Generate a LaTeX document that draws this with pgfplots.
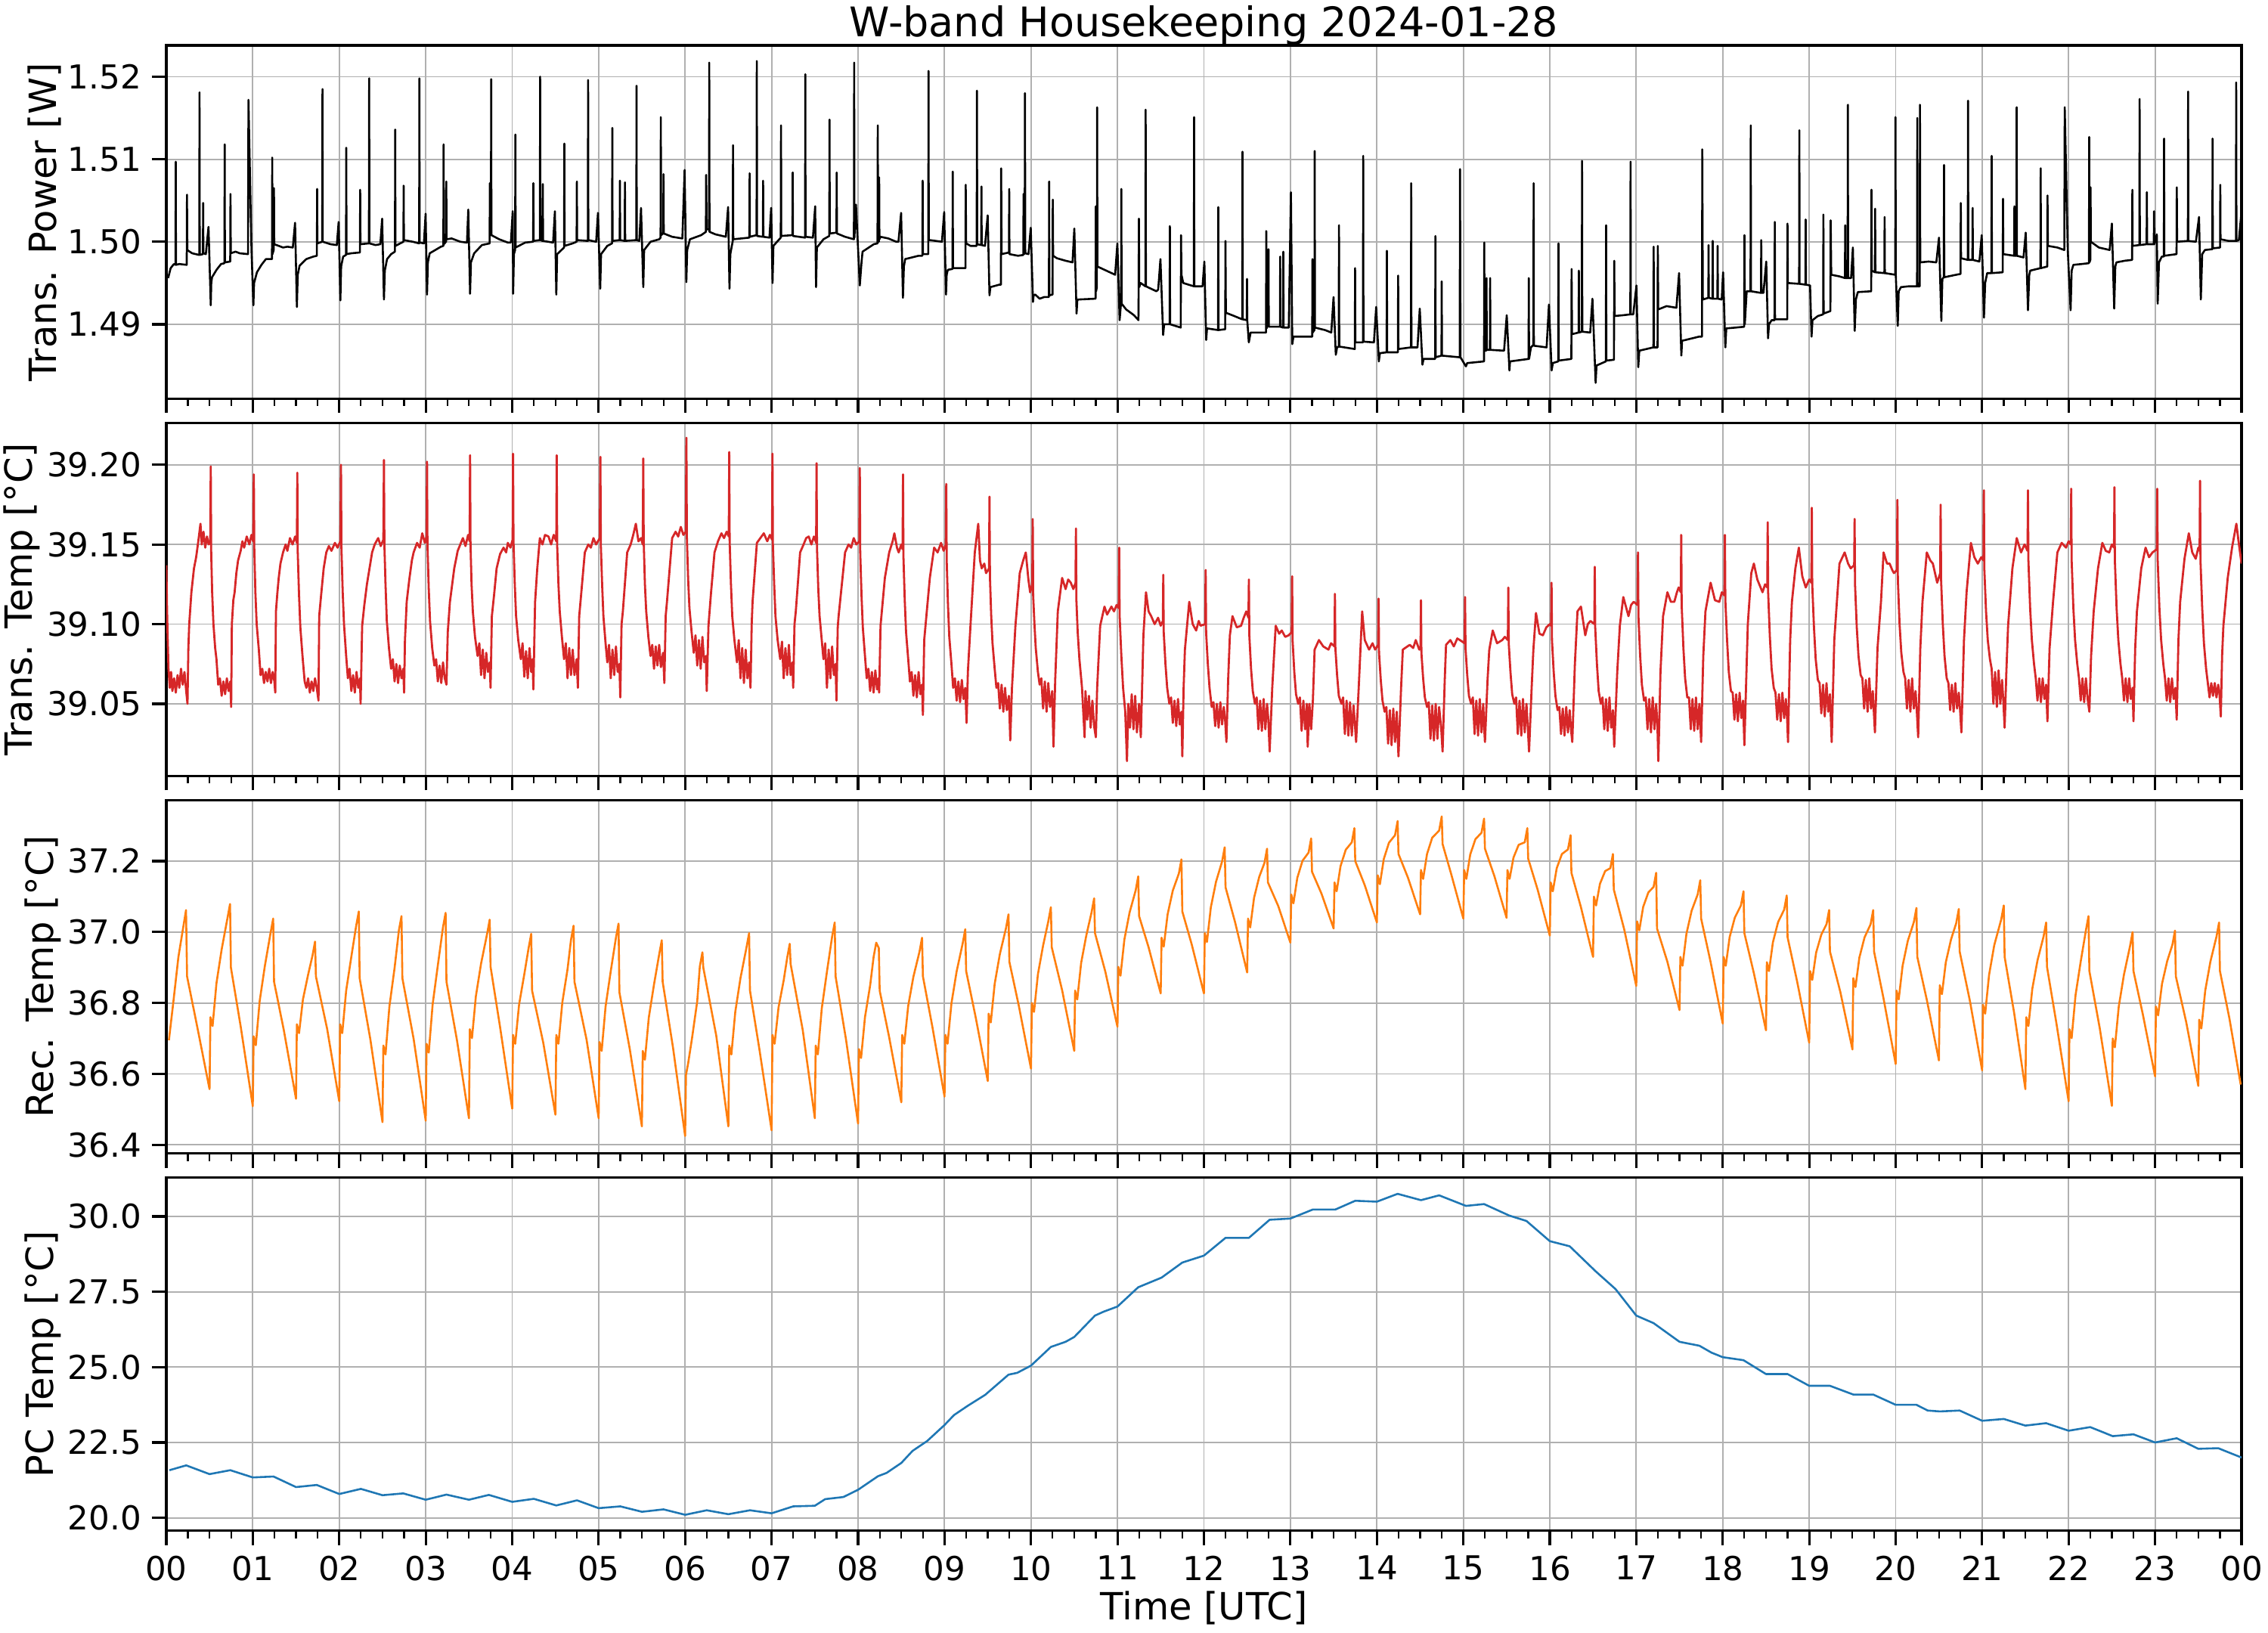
\documentclass[border=0pt]{standalone}
\usepackage{fontspec}
\setmainfont{DejaVu Sans}
\usepackage{pgfplots}
\usepackage{pgfplotstable}
\pgfplotsset{compat=1.18}
\definecolor{tabred}{HTML}{D62728}
\definecolor{taborange}{HTML}{FF7F0E}
\definecolor{tabblue}{HTML}{1F77B4}
\definecolor{gridgray}{HTML}{B0B0B0}
\pgfplotsset{
  hk/.style={
    scale only axis, width=686.25pt, height=116.8pt,
    xmin=0, xmax=24, xtick={0,1,...,24}, minor x tick num=3,
    xtick pos=left, ytick pos=left, tick align=outside,
    major tick length=4.75pt, minor tick length=2.5pt,
    tick style={black, line width=0.8pt}, minor tick style={line width=0.55pt},
    axis line style={line width=0.8pt, black},
    grid=major, major grid style={line width=0.45pt, gridgray},
    scaled y ticks=false,
    tick label style={font=\fontsize{10.9}{13}\selectfont},
    ylabel style={font=\fontsize{12.4}{15}\selectfont, inner sep=0pt},
    ylabel shift=-1.25pt,
    xlabel style={font=\fontsize{12.4}{15}\selectfont},
    xticklabels={},
    clip=true,
  }
}
\pgfplotstableread{
t v
0.021 1.4956
0.050 1.4968
0.088 1.4973
0.106 1.4972
0.109 1.5097
0.112 1.4972
0.150 1.4973
0.236 1.4972
0.239 1.5057
0.243 1.4990
0.270 1.4988
0.300 1.4986
0.340 1.4985
0.381 1.4984
0.384 1.5181
0.387 1.4984
0.423 1.4985
0.426 1.5047
0.429 1.4986
0.457 1.4985
0.488 1.5018
0.514 1.4923
0.520 1.4950
0.529 1.4957
0.581 1.4966
0.633 1.4973
0.672 1.4974
0.675 1.5118
0.678 1.4975
0.739 1.4976
0.742 1.5058
0.746 1.4986
0.800 1.4988
0.850 1.4986
0.945 1.4985
0.950 1.5172
0.985 1.4990
1.007 1.4923
1.015 1.4950
1.048 1.4963
1.100 1.4972
1.152 1.4979
1.222 1.4979
1.225 1.5102
1.228 1.4985
1.242 1.4990
1.245 1.5065
1.248 1.4997
1.300 1.4995
1.350 1.4993
1.400 1.4994
1.463 1.4993
1.489 1.5023
1.510 1.4921
1.520 1.4960
1.541 1.4971
1.619 1.4979
1.700 1.4982
1.741 1.4983
1.744 1.5064
1.747 1.4998
1.803 1.5000
1.806 1.5185
1.809 1.5000
1.900 1.4997
1.972 1.4996
1.993 1.5024
2.013 1.4929
2.022 1.4970
2.045 1.4982
2.078 1.4984
2.081 1.5114
2.084 1.4985
2.138 1.4986
2.239 1.4987
2.242 1.5063
2.245 1.4997
2.343 1.4998
2.346 1.5198
2.349 1.4998
2.420 1.4996
2.475 1.4997
2.496 1.5028
2.517 1.4930
2.527 1.4965
2.553 1.4979
2.600 1.4985
2.644 1.4988
2.647 1.5136
2.650 1.4995
2.742 1.5000
2.745 1.5068
2.748 1.5002
2.850 1.5000
2.924 1.4998
2.927 1.5198
2.930 1.4999
2.979 1.4998
2.999 1.5034
3.015 1.4936
3.025 1.4975
3.046 1.4986
3.176 1.4994
3.204 1.4995
3.207 1.5118
3.210 1.4997
3.235 1.5000
3.238 1.5073
3.241 1.5003
3.300 1.5004
3.400 1.5000
3.477 1.4999
3.492 1.5039
3.513 1.4937
3.523 1.4975
3.560 1.4986
3.650 1.4996
3.739 1.4998
3.742 1.5071
3.745 1.5008
3.754 1.5008
3.757 1.5197
3.760 1.5008
3.850 1.5003
3.950 1.4999
3.985 1.4999
4.006 1.5037
4.011 1.4937
4.020 1.4985
4.034 1.4990
4.037 1.5130
4.040 1.4993
4.150 1.4999
4.242 1.5000
4.245 1.5071
4.248 1.5001
4.320 1.5002
4.323 1.5200
4.326 1.5002
4.351 1.5001
4.354 1.5070
4.357 1.5001
4.473 1.4999
4.494 1.5037
4.510 1.4936
4.520 1.4985
4.600 1.4993
4.603 1.5119
4.606 1.4995
4.700 1.4998
4.745 1.5000
4.748 1.5073
4.751 1.5002
4.875 1.5001
4.878 1.5196
4.881 1.5002
4.971 1.5000
4.992 1.5035
5.018 1.4943
5.028 1.4985
5.100 1.4995
5.155 1.4998
5.158 1.5138
5.161 1.5001
5.243 1.5002
5.246 1.5074
5.249 1.5002
5.301 1.5001
5.304 1.5072
5.307 1.5001
5.435 1.5002
5.438 1.5189
5.441 1.5002
5.470 1.5001
5.490 1.5041
5.516 1.4945
5.526 1.4990
5.600 1.5000
5.700 1.5003
5.716 1.5005
5.719 1.5151
5.722 1.5008
5.747 1.5010
5.750 1.5082
5.753 1.5010
5.850 1.5006
5.968 1.5004
5.994 1.5087
6.014 1.4951
6.024 1.4990
6.056 1.5003
6.186 1.5008
6.240 1.5012
6.243 1.5081
6.250 1.5015
6.276 1.5015
6.279 1.5217
6.282 1.5012
6.350 1.5009
6.471 1.5006
6.497 1.5042
6.513 1.4943
6.523 1.4985
6.551 1.5001
6.554 1.5117
6.557 1.5003
6.650 1.5004
6.743 1.5005
6.746 1.5083
6.749 1.5006
6.826 1.5008
6.829 1.5219
6.832 1.5007
6.899 1.5006
6.902 1.5074
6.905 1.5006
6.975 1.5005
6.995 1.5041
7.011 1.4950
7.021 1.4995
7.106 1.5005
7.109 1.5141
7.112 1.5007
7.241 1.5008
7.244 1.5084
7.247 1.5007
7.387 1.5005
7.390 1.5203
7.393 1.5006
7.478 1.5005
7.504 1.5043
7.514 1.4945
7.524 1.4993
7.600 1.5003
7.667 1.5007
7.670 1.5148
7.673 1.5010
7.750 1.5011
7.753 1.5084
7.756 1.5010
7.850 1.5006
7.952 1.5003
7.955 1.5217
7.958 1.5005
7.976 1.5045
8.020 1.4947
8.040 1.4975
8.052 1.4988
8.182 1.4997
8.225 1.4998
8.228 1.5141
8.231 1.5000
8.241 1.5000
8.244 1.5078
8.247 1.5003
8.259 1.5006
8.350 1.5004
8.441 1.5000
8.467 1.5000
8.498 1.5035
8.519 1.4932
8.530 1.4970
8.545 1.4979
8.700 1.4983
8.744 1.4983
8.747 1.5074
8.750 1.4985
8.812 1.4985
8.815 1.5207
8.818 1.5002
8.830 1.5002
8.900 1.5001
8.970 1.5000
8.996 1.5036
9.017 1.4936
9.025 1.4960
9.038 1.4966
9.092 1.4967
9.095 1.5085
9.098 1.4968
9.242 1.4968
9.245 1.5069
9.250 1.4998
9.300 1.4995
9.372 1.4995
9.375 1.5183
9.378 1.4997
9.424 1.4996
9.427 1.5067
9.430 1.4996
9.468 1.4995
9.499 1.5032
9.520 1.4935
9.530 1.4945
9.634 1.4948
9.652 1.4948
9.655 1.5089
9.660 1.4985
9.745 1.4987
9.748 1.5064
9.751 1.4985
9.850 1.4983
9.911 1.4984
9.914 1.5058
9.918 1.4985
9.927 1.4986
9.930 1.5180
9.934 1.4986
9.971 1.4985
9.997 1.5017
10.023 1.4927
10.030 1.4935
10.049 1.4936
10.100 1.4931
10.153 1.4933
10.207 1.4933
10.210 1.5073
10.213 1.4935
10.249 1.4936
10.252 1.5051
10.256 1.4983
10.300 1.4980
10.400 1.4977
10.480 1.4975
10.501 1.5016
10.527 1.4913
10.535 1.4928
10.542 1.4930
10.747 1.4931
10.750 1.5043
10.753 1.4940
10.762 1.4945
10.765 1.5163
10.768 1.4970
10.850 1.4966
10.973 1.4960
10.999 1.4998
11.025 1.4905
11.042 1.4927
11.045 1.5064
11.048 1.4925
11.100 1.4918
11.191 1.4911
11.243 1.4905
11.248 1.5028
11.252 1.4945
11.269 1.4950
11.323 1.4946
11.326 1.5160
11.329 1.4946
11.450 1.4940
11.471 1.4942
11.497 1.4979
11.528 1.4887
11.540 1.4900
11.603 1.4900
11.606 1.5019
11.609 1.4900
11.732 1.4896
11.735 1.5008
11.740 1.4960
11.761 1.4950
11.883 1.4946
11.886 1.5151
11.889 1.4946
11.984 1.4946
12.005 1.4976
12.026 1.4881
12.036 1.4895
12.163 1.4893
12.166 1.5042
12.169 1.4893
12.246 1.4894
12.249 1.5001
12.254 1.4914
12.350 1.4910
12.443 1.4906
12.446 1.5109
12.449 1.4906
12.495 1.4905
12.498 1.4955
12.501 1.4905
12.519 1.4878
12.540 1.4890
12.718 1.4890
12.721 1.5013
12.724 1.4895
12.744 1.4900
12.747 1.4991
12.750 1.4897
12.879 1.4897
12.882 1.4982
12.885 1.4897
12.915 1.4896
12.918 1.4988
12.921 1.4896
12.981 1.4896
13.006 1.5060
13.022 1.4876
13.035 1.4885
13.252 1.4885
13.255 1.4979
13.258 1.4890
13.278 1.4893
13.281 1.5110
13.284 1.4896
13.400 1.4893
13.473 1.4890
13.499 1.4933
13.525 1.4863
13.540 1.4872
13.559 1.4873
13.562 1.5020
13.565 1.4873
13.745 1.4870
13.748 1.4968
13.751 1.4878
13.839 1.4878
13.842 1.5104
13.845 1.4879
13.966 1.4878
13.992 1.4921
14.023 1.4855
14.035 1.4865
14.113 1.4866
14.116 1.4989
14.119 1.4866
14.243 1.4866
14.246 1.4959
14.249 1.4870
14.394 1.4872
14.397 1.5071
14.400 1.4872
14.470 1.4872
14.496 1.4919
14.527 1.4851
14.540 1.4858
14.674 1.4858
14.677 1.5007
14.680 1.4860
14.747 1.4862
14.750 1.4952
14.753 1.4862
14.958 1.4860
14.962 1.5088
14.967 1.4860
15.030 1.4849
15.045 1.4853
15.239 1.4855
15.242 1.4999
15.246 1.4868
15.265 1.4868
15.268 1.4956
15.271 1.4869
15.307 1.4869
15.310 1.4956
15.313 1.4869
15.471 1.4868
15.502 1.4911
15.533 1.4844
15.540 1.4855
15.754 1.4858
15.757 1.4956
15.760 1.4858
15.782 1.4872
15.810 1.4875
15.813 1.5071
15.816 1.4874
15.963 1.4872
15.990 1.4924
16.021 1.4844
16.035 1.4853
16.097 1.4855
16.100 1.4998
16.103 1.4856
16.249 1.4858
16.252 1.4967
16.257 1.4888
16.333 1.4890
16.336 1.4965
16.339 1.4890
16.370 1.4891
16.373 1.5098
16.376 1.4891
16.467 1.4890
16.493 1.4931
16.530 1.4829
16.540 1.4850
16.648 1.4855
16.651 1.5020
16.654 1.4856
16.742 1.4857
16.745 1.4977
16.750 1.4910
16.850 1.4911
16.931 1.4912
16.934 1.5097
16.937 1.4912
16.965 1.4912
17.002 1.4947
17.023 1.4848
17.035 1.4868
17.198 1.4872
17.201 1.4994
17.205 1.4872
17.246 1.4872
17.249 1.4995
17.254 1.4918
17.350 1.4922
17.464 1.4920
17.495 1.4962
17.521 1.4862
17.530 1.4880
17.726 1.4885
17.760 1.4885
17.763 1.5112
17.770 1.4930
17.833 1.4932
17.836 1.4996
17.839 1.4932
17.881 1.4931
17.884 1.5001
17.887 1.4931
17.938 1.4931
17.941 1.4995
17.944 1.4931
17.988 1.4930
18.004 1.4963
18.030 1.4872
18.041 1.4895
18.150 1.4896
18.248 1.4897
18.251 1.5008
18.255 1.4900
18.277 1.4940
18.321 1.4940
18.324 1.5141
18.327 1.4940
18.442 1.4938
18.445 1.5002
18.448 1.4938
18.471 1.4938
18.503 1.4976
18.524 1.4883
18.535 1.4900
18.566 1.4905
18.599 1.4905
18.602 1.5024
18.605 1.4906
18.746 1.4906
18.749 1.5022
18.753 1.4950
18.883 1.4949
18.886 1.5135
18.889 1.4949
18.956 1.4948
18.959 1.5027
18.962 1.4948
19.010 1.4947
19.027 1.4885
19.038 1.4905
19.100 1.4910
19.161 1.4912
19.164 1.5033
19.167 1.4913
19.245 1.4916
19.248 1.5026
19.255 1.4960
19.350 1.4958
19.413 1.4956
19.416 1.5020
19.419 1.4956
19.444 1.4956
19.447 1.5166
19.450 1.4956
19.484 1.4956
19.505 1.4993
19.526 1.4892
19.540 1.4930
19.562 1.4939
19.717 1.4940
19.720 1.5063
19.723 1.4965
19.759 1.4963
19.762 1.5040
19.766 1.4963
19.869 1.4962
19.872 1.5030
19.875 1.4962
19.995 1.4960
19.998 1.5151
20.001 1.4960
20.024 1.4898
20.035 1.4940
20.061 1.4945
20.150 1.4946
20.247 1.4946
20.250 1.5150
20.253 1.4946
20.278 1.4946
20.281 1.5166
20.284 1.4975
20.380 1.4976
20.470 1.4975
20.501 1.5005
20.528 1.4904
20.540 1.4955
20.556 1.4957
20.559 1.5093
20.562 1.4957
20.700 1.4960
20.750 1.4961
20.753 1.5047
20.756 1.4980
20.834 1.4978
20.837 1.5171
20.840 1.4978
20.887 1.4978
20.890 1.5041
20.893 1.4978
20.968 1.4976
20.995 1.5008
21.021 1.4908
21.035 1.4950
21.058 1.4962
21.107 1.4962
21.110 1.5104
21.113 1.4962
21.238 1.4963
21.241 1.5052
21.245 1.4985
21.370 1.4983
21.373 1.5043
21.376 1.4983
21.396 1.4983
21.399 1.5163
21.402 1.4983
21.478 1.4981
21.504 1.5011
21.530 1.4917
21.545 1.4960
21.556 1.4965
21.674 1.4968
21.677 1.5089
21.680 1.4968
21.753 1.4970
21.756 1.5056
21.760 1.4995
21.870 1.4993
21.950 1.4990
21.955 1.5163
21.976 1.5060
21.990 1.4990
22.023 1.4917
22.035 1.4965
22.055 1.4972
22.150 1.4973
22.235 1.4974
22.238 1.5127
22.241 1.4975
22.251 1.4978
22.254 1.5066
22.257 1.5000
22.350 1.4993
22.474 1.4990
22.500 1.5022
22.527 1.4919
22.540 1.4970
22.553 1.4975
22.650 1.4977
22.734 1.4978
22.737 1.5063
22.740 1.4995
22.818 1.4996
22.821 1.5173
22.824 1.4996
22.902 1.4997
22.905 1.5060
22.908 1.4997
22.985 1.4997
22.988 1.5037
22.991 1.4997
23.020 1.5009
23.030 1.4925
23.045 1.4975
23.078 1.4982
23.101 1.4982
23.104 1.5125
23.107 1.4983
23.248 1.4985
23.251 1.5066
23.255 1.5000
23.379 1.5001
23.382 1.5182
23.385 1.5001
23.472 1.5000
23.508 1.5030
23.529 1.4930
23.545 1.4985
23.576 1.4990
23.662 1.4991
23.665 1.5125
23.668 1.4992
23.751 1.4993
23.754 1.5069
23.757 1.5003
23.850 1.5001
23.935 1.5001
23.938 1.5193
23.941 1.5001
23.969 1.5002
24.000 1.5037
}\tpow
\pgfplotstableread{
t v
0.000 39.137
0.008 39.110
0.015 39.093
0.025 39.072
0.040 39.060
0.055 39.070
0.070 39.058
0.090 39.066
0.110 39.057
0.130 39.068
0.150 39.060
0.170 39.072
0.190 39.062
0.210 39.070
0.230 39.058
0.245 39.050
0.255 39.085
0.265 39.100
0.290 39.120
0.320 39.135
0.345 39.142
0.370 39.152
0.395 39.163
0.410 39.150
0.430 39.158
0.450 39.148
0.470 39.155
0.490 39.150
0.508 39.152
0.514 39.199
0.519 39.145
0.530 39.120
0.545 39.100
0.565 39.085
0.580 39.078
0.600 39.062
0.620 39.066
0.640 39.055
0.660 39.064
0.680 39.056
0.700 39.066
0.720 39.058
0.740 39.064
0.750 39.048
0.758 39.100
0.775 39.115
0.790 39.120
0.810 39.132
0.830 39.140
0.860 39.146
0.880 39.152
0.900 39.148
0.930 39.155
0.960 39.150
0.985 39.156
1.005 39.152
1.012 39.194
1.017 39.148
1.030 39.120
1.045 39.100
1.070 39.084
1.090 39.068
1.110 39.072
1.130 39.063
1.150 39.070
1.170 39.064
1.190 39.072
1.210 39.063
1.230 39.070
1.250 39.064
1.260 39.057
1.268 39.108
1.285 39.120
1.300 39.129
1.320 39.138
1.350 39.145
1.380 39.150
1.400 39.146
1.430 39.154
1.460 39.150
1.490 39.155
1.510 39.151
1.515 39.195
1.520 39.145
1.535 39.118
1.550 39.098
1.575 39.080
1.600 39.064
1.620 39.060
1.640 39.066
1.660 39.057
1.680 39.064
1.700 39.058
1.720 39.066
1.740 39.060
1.760 39.052
1.768 39.105
1.790 39.118
1.820 39.135
1.850 39.145
1.880 39.149
1.910 39.146
1.950 39.151
1.980 39.148
2.013 39.152
2.020 39.200
2.025 39.148
2.040 39.120
2.055 39.100
2.080 39.080
2.100 39.066
2.120 39.072
2.140 39.058
2.160 39.068
2.180 39.057
2.200 39.070
2.220 39.060
2.240 39.066
2.247 39.050
2.265 39.099
2.290 39.112
2.320 39.125
2.350 39.135
2.380 39.145
2.410 39.150
2.450 39.154
2.480 39.149
2.510 39.153
2.517 39.203
2.522 39.150
2.535 39.125
2.550 39.102
2.575 39.085
2.600 39.072
2.620 39.078
2.640 39.064
2.660 39.075
2.680 39.063
2.700 39.074
2.720 39.066
2.740 39.072
2.750 39.057
2.760 39.090
2.780 39.114
2.810 39.128
2.840 39.140
2.860 39.145
2.900 39.151
2.930 39.148
2.960 39.157
2.990 39.151
3.010 39.155
3.015 39.202
3.020 39.150
3.035 39.122
3.050 39.102
3.075 39.085
3.100 39.074
3.120 39.078
3.140 39.064
3.160 39.074
3.180 39.063
3.200 39.076
3.220 39.066
3.240 39.062
3.255 39.095
3.280 39.114
3.330 39.135
3.370 39.146
3.400 39.150
3.430 39.154
3.460 39.149
3.490 39.156
3.508 39.152
3.513 39.206
3.518 39.150
3.530 39.125
3.545 39.108
3.570 39.092
3.600 39.080
3.620 39.088
3.640 39.068
3.660 39.084
3.680 39.066
3.700 39.082
3.720 39.070
3.740 39.076
3.750 39.060
3.765 39.105
3.790 39.118
3.820 39.135
3.860 39.144
3.900 39.148
3.930 39.145
3.950 39.151
3.980 39.148
4.005 39.153
4.010 39.207
4.015 39.152
4.030 39.125
4.045 39.105
4.070 39.090
4.100 39.078
4.120 39.088
4.140 39.067
4.160 39.083
4.180 39.066
4.200 39.085
4.220 39.070
4.235 39.078
4.245 39.059
4.265 39.114
4.290 39.135
4.320 39.154
4.350 39.150
4.380 39.156
4.420 39.155
4.450 39.150
4.480 39.156
4.510 39.152
4.515 39.206
4.520 39.150
4.535 39.125
4.550 39.108
4.575 39.092
4.600 39.078
4.620 39.088
4.640 39.066
4.660 39.085
4.680 39.068
4.700 39.084
4.720 39.068
4.745 39.078
4.760 39.060
4.775 39.105
4.790 39.114
4.840 39.145
4.880 39.150
4.910 39.148
4.940 39.154
4.970 39.150
5.013 39.154
5.020 39.205
5.025 39.150
5.040 39.125
5.055 39.105
5.080 39.088
5.100 39.076
5.120 39.087
5.140 39.066
5.160 39.084
5.180 39.068
5.200 39.086
5.220 39.070
5.240 39.075
5.250 39.054
5.265 39.100
5.280 39.108
5.330 39.145
5.370 39.150
5.400 39.156
5.430 39.163
5.460 39.152
5.490 39.154
5.510 39.150
5.516 39.204
5.521 39.152
5.535 39.125
5.550 39.108
5.575 39.092
5.600 39.080
5.620 39.087
5.640 39.072
5.660 39.086
5.680 39.074
5.700 39.087
5.720 39.073
5.745 39.082
5.760 39.063
5.775 39.105
5.790 39.114
5.850 39.154
5.890 39.158
5.920 39.155
5.950 39.161
5.980 39.156
6.008 39.158
6.015 39.217
6.020 39.155
6.035 39.128
6.050 39.110
6.075 39.095
6.100 39.082
6.120 39.093
6.140 39.074
6.160 39.090
6.180 39.072
6.200 39.092
6.220 39.076
6.240 39.080
6.250 39.058
6.270 39.099
6.300 39.120
6.340 39.145
6.380 39.152
6.420 39.157
6.450 39.154
6.480 39.158
6.505 39.155
6.510 39.208
6.515 39.152
6.530 39.125
6.545 39.105
6.570 39.090
6.600 39.076
6.620 39.090
6.640 39.066
6.660 39.085
6.680 39.063
6.700 39.084
6.720 39.066
6.740 39.076
6.756 39.060
6.770 39.100
6.780 39.114
6.830 39.151
6.870 39.154
6.910 39.157
6.950 39.152
6.980 39.156
7.005 39.153
7.010 39.207
7.015 39.150
7.030 39.125
7.045 39.105
7.070 39.090
7.100 39.078
7.120 39.089
7.140 39.066
7.160 39.085
7.180 39.068
7.200 39.087
7.220 39.068
7.240 39.076
7.250 39.060
7.265 39.100
7.280 39.108
7.330 39.145
7.370 39.150
7.400 39.154
7.430 39.155
7.460 39.150
7.490 39.155
7.515 39.151
7.520 39.201
7.525 39.148
7.540 39.122
7.555 39.105
7.580 39.090
7.600 39.078
7.620 39.088
7.640 39.060
7.660 39.084
7.680 39.066
7.700 39.086
7.720 39.068
7.740 39.075
7.750 39.052
7.765 39.098
7.775 39.105
7.850 39.145
7.890 39.150
7.920 39.148
7.950 39.154
7.980 39.150
8.015 39.152
8.020 39.198
8.025 39.145
8.040 39.118
8.055 39.098
8.080 39.080
8.100 39.066
8.120 39.072
8.140 39.058
8.160 39.070
8.180 39.057
8.200 39.071
8.220 39.059
8.235 39.066
8.244 39.057
8.260 39.099
8.310 39.129
8.360 39.145
8.400 39.152
8.420 39.157
8.450 39.148
8.470 39.145
8.500 39.150
8.515 39.147
8.520 39.194
8.525 39.142
8.540 39.115
8.555 39.095
8.580 39.078
8.600 39.064
8.620 39.070
8.640 39.055
8.660 39.068
8.680 39.054
8.700 39.070
8.720 39.056
8.740 39.062
8.750 39.043
8.765 39.090
8.780 39.099
8.830 39.129
8.880 39.148
8.920 39.145
8.960 39.151
8.990 39.146
9.015 39.150
9.020 39.188
9.025 39.140
9.040 39.112
9.055 39.092
9.080 39.075
9.100 39.060
9.120 39.066
9.140 39.052
9.160 39.064
9.180 39.051
9.200 39.065
9.220 39.053
9.240 39.060
9.255 39.038
9.270 39.070
9.300 39.099
9.350 39.145
9.390 39.163
9.410 39.140
9.430 39.135
9.460 39.138
9.480 39.132
9.515 39.135
9.520 39.180
9.525 39.130
9.540 39.105
9.555 39.088
9.580 39.072
9.600 39.060
9.620 39.063
9.640 39.047
9.660 39.062
9.680 39.045
9.700 39.060
9.720 39.046
9.745 39.055
9.760 39.027
9.780 39.060
9.820 39.099
9.870 39.132
9.910 39.140
9.940 39.145
9.970 39.128
9.990 39.120
10.015 39.125
10.020 39.166
10.025 39.118
10.040 39.100
10.055 39.085
10.080 39.070
10.100 39.062
10.120 39.066
10.140 39.047
10.160 39.064
10.180 39.045
10.200 39.063
10.220 39.048
10.245 39.058
10.260 39.023
10.280 39.065
10.310 39.108
10.360 39.129
10.400 39.122
10.430 39.128
10.460 39.126
10.490 39.122
10.515 39.126
10.520 39.160
10.525 39.115
10.540 39.095
10.560 39.078
10.590 39.060
10.620 39.029
10.630 39.058
10.650 39.040
10.670 39.055
10.690 39.035
10.710 39.052
10.730 39.036
10.750 39.029
10.765 39.060
10.800 39.099
10.850 39.111
10.880 39.106
10.930 39.111
10.960 39.108
10.990 39.112
11.015 39.110
11.020 39.148
11.025 39.105
11.045 39.080
11.065 39.060
11.090 39.045
11.110 39.014
11.125 39.050
11.145 39.035
11.165 39.056
11.185 39.034
11.205 39.055
11.225 39.032
11.250 39.050
11.270 39.029
11.285 39.060
11.300 39.093
11.330 39.120
11.360 39.108
11.390 39.105
11.430 39.100
11.470 39.104
11.500 39.099
11.525 39.102
11.530 39.131
11.535 39.095
11.555 39.075
11.575 39.060
11.600 39.050
11.620 39.054
11.640 39.038
11.660 39.052
11.680 39.036
11.700 39.053
11.720 39.037
11.740 39.045
11.750 39.017
11.765 39.060
11.780 39.084
11.830 39.114
11.870 39.100
11.910 39.096
11.940 39.102
11.960 39.099
12.015 39.100
12.020 39.134
12.025 39.095
12.045 39.075
12.065 39.060
12.090 39.048
12.110 39.051
12.130 39.036
12.150 39.050
12.170 39.035
12.190 39.051
12.210 39.037
12.230 39.048
12.245 39.040
12.260 39.026
12.280 39.065
12.300 39.093
12.330 39.105
12.380 39.098
12.430 39.099
12.460 39.104
12.490 39.108
12.515 39.104
12.520 39.128
12.525 39.093
12.545 39.072
12.565 39.058
12.590 39.050
12.610 39.054
12.630 39.034
12.650 39.052
12.670 39.033
12.690 39.053
12.710 39.034
12.730 39.050
12.745 39.040
12.760 39.020
12.790 39.060
12.830 39.099
12.870 39.094
12.900 39.096
12.940 39.092
12.980 39.093
13.015 39.095
13.020 39.130
13.025 39.090
13.045 39.070
13.065 39.056
13.090 39.050
13.110 39.054
13.130 39.033
13.150 39.052
13.170 39.034
13.190 39.050
13.200 39.023
13.220 39.050
13.240 39.034
13.260 39.052
13.280 39.084
13.330 39.090
13.380 39.086
13.440 39.084
13.470 39.088
13.490 39.087
13.510 39.086
13.515 39.119
13.520 39.085
13.540 39.068
13.560 39.055
13.590 39.050
13.610 39.054
13.630 39.031
13.650 39.052
13.670 39.030
13.690 39.051
13.710 39.030
13.730 39.049
13.745 39.038
13.760 39.026
13.790 39.060
13.810 39.084
13.830 39.108
13.860 39.090
13.910 39.084
13.950 39.088
13.980 39.084
14.015 39.087
14.020 39.116
14.025 39.082
14.045 39.065
14.065 39.052
14.090 39.045
14.110 39.048
14.130 39.025
14.150 39.046
14.170 39.024
14.190 39.047
14.210 39.026
14.230 39.045
14.240 39.030
14.250 39.017
14.280 39.060
14.300 39.084
14.380 39.087
14.420 39.085
14.450 39.090
14.490 39.084
14.505 39.086
14.510 39.115
14.515 39.082
14.535 39.066
14.555 39.054
14.580 39.048
14.600 39.051
14.620 39.028
14.640 39.049
14.660 39.027
14.680 39.050
14.700 39.028
14.720 39.048
14.745 39.034
14.760 39.020
14.785 39.065
14.800 39.087
14.850 39.090
14.890 39.086
14.930 39.091
14.960 39.090
15.015 39.088
15.020 39.117
15.025 39.085
15.045 39.068
15.065 39.055
15.090 39.050
15.110 39.054
15.130 39.031
15.150 39.052
15.170 39.030
15.190 39.053
15.210 39.032
15.230 39.050
15.240 39.036
15.250 39.026
15.280 39.065
15.300 39.084
15.340 39.096
15.390 39.088
15.450 39.090
15.480 39.092
15.515 39.090
15.520 39.123
15.525 39.088
15.545 39.070
15.565 39.056
15.590 39.050
15.610 39.054
15.630 39.031
15.650 39.052
15.670 39.030
15.690 39.053
15.710 39.032
15.730 39.050
15.745 39.036
15.760 39.020
15.790 39.060
15.810 39.084
15.840 39.107
15.880 39.094
15.920 39.093
15.960 39.098
16.000 39.100
16.015 39.099
16.020 39.126
16.025 39.090
16.045 39.070
16.065 39.055
16.090 39.046
16.110 39.048
16.130 39.031
16.150 39.047
16.170 39.030
16.190 39.048
16.210 39.032
16.230 39.046
16.245 39.034
16.260 39.026
16.290 39.075
16.320 39.108
16.360 39.111
16.410 39.093
16.440 39.100
16.470 39.102
16.515 39.100
16.520 39.136
16.525 39.098
16.545 39.075
16.565 39.058
16.590 39.050
16.610 39.054
16.630 39.034
16.650 39.053
16.670 39.033
16.690 39.054
16.710 39.035
16.730 39.046
16.745 39.023
16.780 39.070
16.810 39.099
16.850 39.117
16.910 39.105
16.940 39.112
16.970 39.114
17.015 39.112
17.020 39.145
17.025 39.105
17.045 39.080
17.065 39.062
17.090 39.052
17.110 39.054
17.130 39.034
17.150 39.053
17.170 39.032
17.190 39.054
17.210 39.034
17.230 39.050
17.245 39.036
17.255 39.014
17.280 39.070
17.310 39.105
17.360 39.120
17.400 39.114
17.440 39.114
17.470 39.120
17.490 39.123
17.515 39.120
17.520 39.156
17.525 39.112
17.545 39.085
17.565 39.066
17.590 39.054
17.610 39.054
17.630 39.034
17.650 39.053
17.670 39.033
17.690 39.054
17.710 39.034
17.730 39.050
17.750 39.026
17.775 39.080
17.800 39.108
17.860 39.126
17.910 39.115
17.960 39.114
17.990 39.120
18.020 39.118
18.025 39.156
18.030 39.115
18.050 39.090
18.070 39.070
18.095 39.058
18.115 39.057
18.135 39.040
18.155 39.056
18.175 39.039
18.195 39.057
18.215 39.041
18.235 39.052
18.250 39.024
18.290 39.100
18.330 39.132
18.360 39.138
18.400 39.128
18.460 39.120
18.490 39.125
18.515 39.123
18.520 39.164
18.525 39.120
18.545 39.092
18.565 39.072
18.590 39.060
18.610 39.057
18.630 39.040
18.650 39.056
18.670 39.039
18.690 39.057
18.710 39.041
18.730 39.053
18.745 39.040
18.755 39.026
18.780 39.090
18.800 39.114
18.840 39.135
18.880 39.148
18.920 39.130
18.960 39.123
19.000 39.128
19.025 39.126
19.030 39.173
19.035 39.125
19.055 39.098
19.075 39.078
19.100 39.065
19.120 39.063
19.140 39.044
19.160 39.062
19.180 39.042
19.200 39.063
19.220 39.045
19.240 39.056
19.260 39.026
19.290 39.090
19.320 39.114
19.350 39.138
19.410 39.145
19.450 39.138
19.480 39.135
19.520 39.137
19.525 39.166
19.530 39.125
19.550 39.098
19.570 39.080
19.595 39.068
19.615 39.066
19.635 39.047
19.655 39.065
19.675 39.045
19.695 39.066
19.715 39.047
19.735 39.058
19.760 39.032
19.790 39.085
19.830 39.114
19.860 39.145
19.900 39.138
19.930 39.138
19.960 39.134
19.980 39.132
20.015 39.134
20.020 39.178
20.025 39.128
20.045 39.100
20.065 39.082
20.090 39.070
20.110 39.066
20.130 39.047
20.150 39.065
20.170 39.045
20.190 39.066
20.210 39.047
20.230 39.058
20.245 39.045
20.260 39.029
20.285 39.085
20.310 39.114
20.360 39.145
20.400 39.140
20.430 39.138
20.480 39.126
20.515 39.132
20.520 39.175
20.525 39.128
20.545 39.100
20.565 39.080
20.590 39.066
20.610 39.063
20.630 39.046
20.650 39.062
20.670 39.045
20.690 39.063
20.710 39.047
20.730 39.057
20.745 39.046
20.760 39.032
20.790 39.090
20.820 39.120
20.870 39.151
20.910 39.142
20.950 39.138
20.990 39.142
21.015 39.140
21.020 39.184
21.025 39.135
21.045 39.108
21.065 39.090
21.090 39.078
21.110 39.072
21.130 39.050
21.150 39.070
21.170 39.048
21.190 39.071
21.210 39.050
21.230 39.065
21.245 39.052
21.260 39.035
21.280 39.070
21.300 39.099
21.350 39.135
21.400 39.154
21.450 39.145
21.490 39.150
21.525 39.146
21.530 39.184
21.535 39.140
21.555 39.110
21.575 39.090
21.600 39.075
21.620 39.066
21.640 39.052
21.660 39.066
21.680 39.051
21.700 39.066
21.720 39.053
21.740 39.062
21.755 39.039
21.780 39.085
21.820 39.114
21.870 39.145
21.920 39.151
21.970 39.148
22.000 39.152
22.025 39.150
22.030 39.185
22.035 39.140
22.055 39.110
22.075 39.090
22.100 39.075
22.120 39.066
22.140 39.052
22.160 39.066
22.180 39.051
22.200 39.066
22.220 39.053
22.240 39.045
22.260 39.080
22.290 39.108
22.340 39.135
22.390 39.151
22.430 39.146
22.470 39.145
22.500 39.150
22.525 39.148
22.530 39.186
22.535 39.140
22.555 39.110
22.575 39.090
22.600 39.075
22.620 39.066
22.640 39.052
22.660 39.066
22.680 39.051
22.700 39.066
22.720 39.053
22.740 39.060
22.750 39.039
22.770 39.085
22.790 39.108
22.840 39.135
22.890 39.148
22.930 39.142
22.970 39.145
23.020 39.147
23.025 39.185
23.030 39.140
23.050 39.110
23.070 39.090
23.095 39.075
23.115 39.066
23.135 39.052
23.155 39.066
23.175 39.051
23.195 39.066
23.215 39.053
23.235 39.060
23.250 39.040
23.270 39.090
23.290 39.114
23.340 39.141
23.390 39.157
23.430 39.145
23.470 39.141
23.500 39.148
23.515 39.146
23.520 39.190
23.525 39.140
23.545 39.110
23.565 39.088
23.590 39.072
23.610 39.063
23.630 39.054
23.650 39.063
23.670 39.055
23.690 39.063
23.710 39.054
23.730 39.062
23.745 39.056
23.760 39.042
23.775 39.080
23.790 39.099
23.840 39.129
23.890 39.148
23.940 39.163
23.970 39.150
24.000 39.138
}\ttemp
\pgfplotstableread{
t v
0.030 36.695
0.080 36.800
0.140 36.930
0.200 37.020
0.228 37.062
0.240 36.875
0.360 36.730
0.500 36.557
0.510 36.760
0.535 36.735
0.580 36.856
0.640 36.951
0.707 37.039
0.737 37.079
0.747 36.900
0.860 36.734
1.000 36.509
1.010 36.706
1.035 36.681
1.080 36.806
1.140 36.905
1.206 36.998
1.236 37.038
1.246 36.860
1.360 36.722
1.500 36.530
1.510 36.740
1.535 36.715
1.580 36.810
1.640 36.880
1.690 36.933
1.720 36.973
1.730 36.875
1.860 36.727
2.000 36.523
2.010 36.740
2.035 36.715
2.080 36.835
2.140 36.931
2.196 37.018
2.226 37.058
2.236 36.870
2.360 36.697
2.500 36.464
2.510 36.680
2.535 36.655
2.580 36.790
2.640 36.899
2.690 37.005
2.720 37.045
2.730 36.870
2.860 36.699
3.000 36.468
3.010 36.685
3.035 36.660
3.080 36.796
3.140 36.906
3.200 37.014
3.230 37.054
3.240 36.860
3.360 36.697
3.500 36.475
3.510 36.726
3.535 36.701
3.580 36.819
3.640 36.911
3.710 36.995
3.740 37.035
3.750 36.902
3.860 36.732
4.000 36.502
4.010 36.710
4.035 36.685
4.080 36.796
4.140 36.881
4.190 36.955
4.220 36.995
4.230 36.835
4.360 36.687
4.500 36.485
4.510 36.710
4.535 36.685
4.580 36.802
4.640 36.895
4.680 36.978
4.710 37.018
4.720 36.860
4.860 36.697
5.000 36.475
5.010 36.690
5.035 36.665
5.080 36.790
5.140 36.890
5.200 36.984
5.230 37.024
5.240 36.830
5.360 36.670
5.500 36.452
5.510 36.665
5.535 36.640
5.580 36.759
5.640 36.852
5.700 36.937
5.730 36.977
5.740 36.860
5.860 36.674
6.000 36.425
6.010 36.597
6.035 36.630
6.080 36.701
6.140 36.805
6.170 36.903
6.200 36.943
6.210 36.900
6.360 36.708
6.500 36.452
6.510 36.680
6.535 36.655
6.580 36.775
6.640 36.870
6.710 36.957
6.740 36.997
6.750 36.835
6.860 36.668
7.000 36.441
7.010 36.710
7.035 36.685
7.080 36.787
7.140 36.864
7.180 36.927
7.210 36.967
7.220 36.910
7.360 36.724
7.500 36.475
7.510 36.680
7.535 36.655
7.580 36.784
7.640 36.888
7.700 36.987
7.730 37.027
7.740 36.875
7.860 36.698
8.000 36.460
8.010 36.670
8.035 36.645
8.080 36.760
8.140 36.850
8.180 36.930
8.210 36.970
8.240 36.955
8.250 36.835
8.360 36.703
8.500 36.520
8.510 36.710
8.535 36.685
8.580 36.792
8.640 36.874
8.710 36.944
8.740 36.984
8.750 36.875
8.860 36.732
9.000 36.536
9.010 36.710
9.035 36.685
9.080 36.799
9.140 36.889
9.210 36.968
9.240 37.008
9.250 36.890
9.360 36.760
9.500 36.580
9.510 36.770
9.535 36.745
9.580 36.854
9.640 36.938
9.710 37.010
9.740 37.050
9.750 36.916
9.860 36.791
10.000 36.615
10.010 36.800
10.035 36.775
10.080 36.881
10.140 36.962
10.200 37.030
10.230 37.070
10.240 36.957
10.360 36.836
10.500 36.665
10.510 36.835
10.535 36.810
10.580 36.913
10.640 36.991
10.700 37.055
10.730 37.095
10.740 36.997
10.860 36.888
11.000 36.733
11.010 36.902
11.035 36.877
11.080 36.979
11.140 37.055
11.210 37.117
11.240 37.157
11.250 37.045
11.360 36.957
11.500 36.827
11.510 36.984
11.535 36.959
11.580 37.050
11.640 37.117
11.710 37.165
11.740 37.205
11.750 37.058
11.860 36.964
12.000 36.827
12.010 36.997
12.035 36.972
12.080 37.070
12.140 37.142
12.210 37.199
12.240 37.239
12.250 37.126
12.360 37.028
12.500 36.886
12.510 37.038
12.535 37.013
12.580 37.097
12.640 37.156
12.700 37.195
12.730 37.235
12.740 37.140
12.860 37.073
13.000 36.970
13.010 37.106
13.035 37.081
13.080 37.153
13.140 37.201
13.210 37.224
13.240 37.264
13.250 37.170
13.360 37.108
13.500 37.010
13.510 37.140
13.535 37.115
13.580 37.186
13.640 37.232
13.710 37.253
13.740 37.293
13.750 37.200
13.860 37.132
14.000 37.027
14.010 37.160
14.035 37.135
14.080 37.206
14.140 37.252
14.210 37.273
14.240 37.313
14.250 37.220
14.360 37.153
14.500 37.050
14.510 37.175
14.535 37.150
14.580 37.220
14.640 37.266
14.720 37.286
14.750 37.326
14.760 37.248
14.860 37.163
15.000 37.038
15.010 37.175
15.035 37.150
15.080 37.219
15.140 37.262
15.210 37.280
15.240 37.320
15.250 37.235
15.360 37.157
15.500 37.040
15.510 37.175
15.535 37.150
15.580 37.210
15.640 37.246
15.710 37.253
15.740 37.293
15.750 37.207
15.860 37.119
16.000 36.990
16.010 37.140
16.035 37.115
16.080 37.180
16.140 37.220
16.210 37.233
16.240 37.273
16.250 37.167
16.360 37.070
16.500 36.930
16.510 37.100
16.535 37.075
16.580 37.136
16.640 37.172
16.700 37.180
16.730 37.220
16.740 37.120
16.860 37.008
17.000 36.848
17.010 37.030
17.035 37.005
17.080 37.071
17.140 37.112
17.200 37.127
17.230 37.167
17.240 37.010
17.360 36.916
17.500 36.780
17.510 36.930
17.535 36.905
17.580 36.995
17.640 37.060
17.710 37.106
17.740 37.146
17.750 37.038
17.860 36.915
18.000 36.742
18.010 36.930
18.035 36.905
18.080 36.986
18.140 37.041
18.210 37.075
18.240 37.115
18.250 36.997
18.360 36.884
18.500 36.723
18.510 36.915
18.535 36.890
18.580 36.971
18.640 37.028
18.710 37.063
18.740 37.103
18.750 36.985
18.860 36.861
19.000 36.688
19.010 36.890
19.035 36.865
19.080 36.942
19.140 36.993
19.200 37.022
19.230 37.062
19.240 36.945
19.360 36.831
19.500 36.669
19.510 36.870
19.535 36.845
19.580 36.928
19.640 36.985
19.710 37.022
19.740 37.062
19.750 36.945
19.860 36.812
20.000 36.628
20.010 36.835
20.035 36.810
20.080 36.905
20.140 36.975
20.210 37.028
20.240 37.068
20.250 36.930
20.360 36.809
20.500 36.638
20.510 36.850
20.535 36.825
20.580 36.915
20.640 36.979
20.700 37.025
20.730 37.065
20.740 36.945
20.860 36.804
21.000 36.610
21.010 36.795
21.035 36.770
21.080 36.879
21.140 36.963
21.220 37.035
21.250 37.075
21.260 36.930
21.370 36.772
21.500 36.557
21.510 36.760
21.535 36.735
21.580 36.840
21.640 36.920
21.710 36.987
21.740 37.027
21.750 36.902
21.860 36.741
22.000 36.523
22.010 36.726
22.035 36.701
22.080 36.822
22.140 36.917
22.200 37.005
22.230 37.045
22.240 36.890
22.360 36.729
22.500 36.510
22.510 36.700
22.535 36.675
22.580 36.790
22.640 36.880
22.710 36.960
22.740 37.000
22.750 36.890
22.860 36.766
23.000 36.593
23.010 36.790
23.035 36.765
23.080 36.854
23.140 36.918
23.200 36.964
23.230 37.004
23.240 36.875
23.360 36.746
23.500 36.566
23.510 36.753
23.535 36.728
23.580 36.835
23.640 36.917
23.710 36.987
23.740 37.027
23.750 36.890
23.860 36.756
23.990 36.570
}\rtemp
\pgfplotstableread{
t v
0.036 21.58
0.230 21.74
0.500 21.45
0.740 21.58
1.000 21.34
1.240 21.37
1.500 21.02
1.740 21.09
2.000 20.79
2.250 20.96
2.500 20.75
2.740 20.81
3.000 20.60
3.240 20.77
3.500 20.60
3.730 20.76
4.000 20.53
4.250 20.63
4.510 20.41
4.750 20.58
5.000 20.32
5.250 20.38
5.500 20.20
5.750 20.28
6.000 20.10
6.250 20.25
6.500 20.12
6.750 20.25
7.000 20.15
7.250 20.38
7.500 20.40
7.620 20.62
7.830 20.69
8.000 20.93
8.230 21.38
8.330 21.49
8.500 21.82
8.630 22.22
8.800 22.55
9.000 23.08
9.110 23.41
9.270 23.72
9.470 24.08
9.740 24.75
9.840 24.81
10.000 25.05
10.230 25.67
10.400 25.84
10.500 26.00
10.740 26.71
10.840 26.84
11.000 27.01
11.240 27.65
11.510 27.97
11.750 28.47
12.000 28.70
12.250 29.29
12.520 29.29
12.760 29.89
13.000 29.93
13.260 30.23
13.520 30.23
13.750 30.52
14.000 30.49
14.240 30.75
14.510 30.54
14.720 30.70
15.030 30.35
15.240 30.41
15.530 30.03
15.730 29.85
16.000 29.18
16.230 29.01
16.530 28.18
16.760 27.59
17.000 26.71
17.200 26.46
17.500 25.84
17.730 25.71
17.870 25.48
18.000 25.33
18.240 25.23
18.500 24.77
18.750 24.77
19.000 24.38
19.240 24.38
19.510 24.09
19.740 24.09
20.000 23.75
20.240 23.75
20.370 23.56
20.510 23.53
20.740 23.56
21.000 23.22
21.250 23.28
21.500 23.06
21.740 23.14
22.000 22.89
22.250 23.01
22.510 22.71
22.750 22.77
23.000 22.50
23.250 22.64
23.500 22.29
23.730 22.31
24.000 22.00
}\pctemp
\begin{document}
\begin{tikzpicture}
\begin{axis}[hk, name=toppanel, at={(0pt,374.4pt)}, anchor=south west,
  ymin=1.4810, ymax=1.5238, ytick={1.49,1.50,1.51,1.52},
  yticklabel style={/pgf/number format/.cd, fixed, zerofill, precision=2, assume math mode=true},
  ylabel={Trans. Power [W]}]
\addplot[black, line width=0.65pt, line join=round] table[x=t, y=v] {\tpow};
\end{axis}
\node[anchor=base, inner sep=0pt, font=\fontsize{13.5}{16}\selectfont, yshift=2.75pt] at (toppanel.north) {W-band Housekeeping 2024-01-28};
\begin{axis}[hk, at={(0pt,249.6pt)}, anchor=south west,
  ymin=39.0047, ymax=39.2264, ytick={39.05,39.10,39.15,39.20},
  yticklabel style={/pgf/number format/.cd, fixed, zerofill, precision=2, assume math mode=true},
  ylabel={Trans. Temp [°C]}]
\addplot[tabred, line width=0.7pt, line join=round] table[x=t, y=v] {\ttemp};
\end{axis}
\begin{axis}[hk, at={(0pt,124.8pt)}, anchor=south west,
  ymin=36.376, ymax=37.372, ytick={36.4,36.6,36.8,37.0,37.2},
  yticklabel style={/pgf/number format/.cd, fixed, zerofill, precision=1, assume math mode=true},
  ylabel={Rec. Temp [°C]}]
\addplot[taborange, line width=0.65pt, line join=round] table[x=t, y=v] {\rtemp};
\end{axis}
\begin{axis}[hk, at={(0pt,0pt)}, anchor=south west,
  ymin=19.57, ymax=31.29, ytick={20,22.5,25,27.5,30},
  yticklabel style={/pgf/number format/.cd, fixed, zerofill, precision=1, assume math mode=true},
  ylabel={PC Temp [°C]},
  xticklabels={00,01,02,03,04,05,06,07,08,09,10,11,12,13,14,15,16,17,18,19,20,21,22,23,00},
  xlabel={Time [UTC]},
  xlabel style={at={(axis description cs:0.5,0)}, anchor=base, yshift=-29.5pt, inner sep=0pt}]
\addplot[tabblue, line width=0.65pt, line join=round] table[x=t, y=v] {\pctemp};
\end{axis}
\pgfresetboundingbox
\path[use as bounding box] (-55pt,-33.75pt) rectangle (695pt,506.2pt);
\end{tikzpicture}
\end{document}
